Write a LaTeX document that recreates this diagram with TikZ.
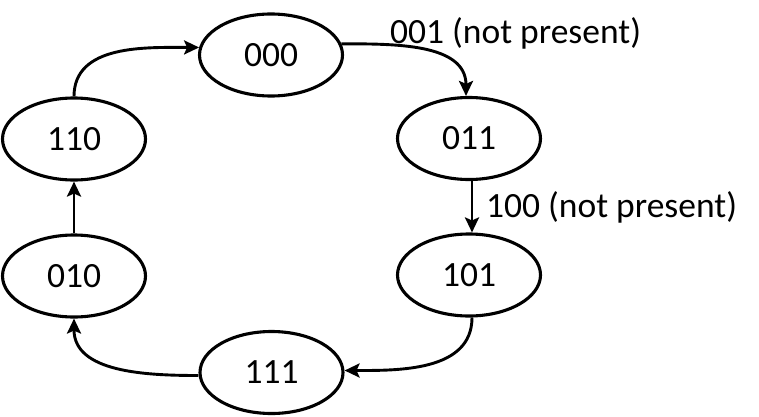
\documentclass[tikz,border=0pt]{standalone}
\usepackage{fontspec}
\setmainfont{Carlito}
\usetikzlibrary{shapes.geometric,arrows.meta}
\begin{document}
\begin{tikzpicture}[x=1pt,y=1pt,
  state/.style={ellipse, draw, line width=3.1pt, minimum width=143pt, minimum height=82pt, inner sep=0pt, font=\fontsize{35.5}{42}\selectfont},
  lbl/.style={inner sep=0pt, font=\fontsize{35.5}{42}\selectfont},
  conn/.style={line width=2.9pt, -{Stealth[length=15pt,width=14pt,inset=3pt]}}]
\useasboundingbox (0,0) rectangle (759,416);
\node[state] (n000) at (271,361) {000};
\node[state] (n011) at (469,277.5) {011};
\node[state] (n110) at (74,277) {110};
\node[state] (n010) at (74,140) {010};
\node[state] (n101) at (469,141) {101};
\node[state] (n111) at (271.5,43.5) {111};
\node[lbl, anchor=base west] (l1) at (390,372) {001 (not present)};
\node[lbl, anchor=base west] (l2) at (486,199) {100 (not present)};
\draw[conn] (n110.north) to[out=90,in=180] (n000.174);
\draw[conn] (n000.9) to[out=0,in=90] ([xshift=-3pt]n011.north);
\draw[conn] ([xshift=3pt]n011.south) -- ([xshift=3pt]n101.north);
\draw[conn] ([xshift=3pt]n101.south) to[out=-90,in=0] ([yshift=2pt]n111.east);
\draw[conn] ([yshift=-3pt]n111.west) to[out=180,in=-90] (n010.south);
\draw[conn] (n010.north) -- (n110.south);
\end{tikzpicture}
\end{document}
